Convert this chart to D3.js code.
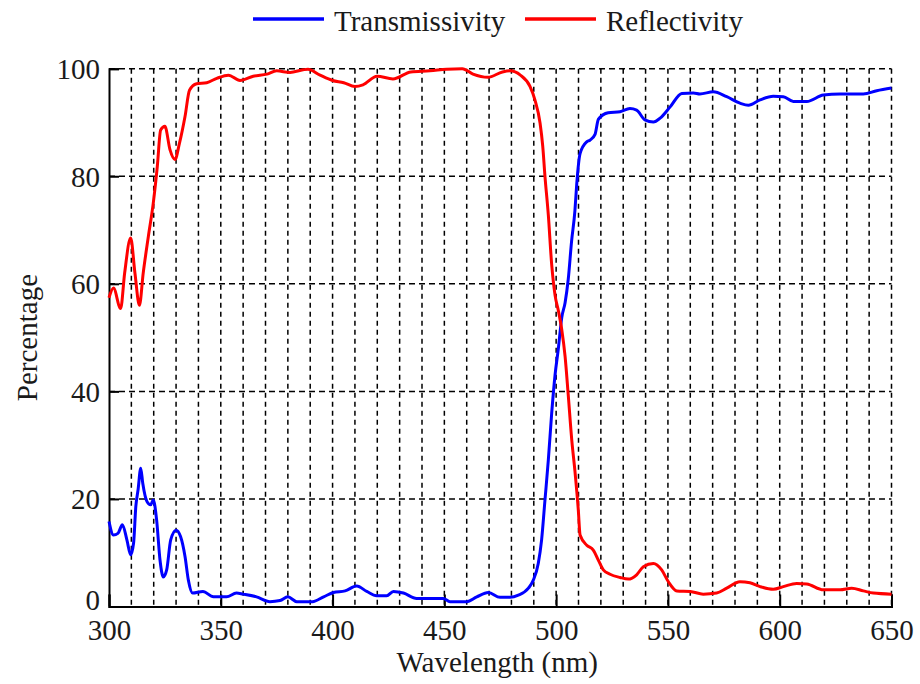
<!DOCTYPE html>
<html>
<head>
<meta charset="utf-8">
<script src="https://cdn.jsdelivr.net/npm/d3@7"></script>
<style>
  body { margin: 0; background: #fff; }
  svg text { font-family: "Liberation Serif", "Times New Roman", Times, "DejaVu Serif", "Noto Serif", serif; fill: #1a1a1a; }
</style>
</head>
<body>
<div id="chart"></div>
<script>
// wavelength (nm) / percentage
var transWave = [300, 302, 304, 306, 308, 309.7, 311, 312, 313, 314.2, 315.1, 317, 318.6, 319.8, 321.3, 322.8, 324.3, 325.8, 327.6, 330, 332, 334, 335.5, 337.4, 342, 346.7, 352.6, 357, 360, 366, 372, 376.5, 380, 384, 391, 396, 400.4, 405.6, 410.8, 415.3, 419.7, 424.2, 427.2, 431.7, 437.6, 449.5, 452.5, 460, 464.5, 469.7, 474.9, 479.4, 483.1, 487.6, 489.8, 492, 493.5, 495, 496.5, 498, 499.5, 501, 502.5, 504, 505.4, 506.9, 508.4, 509.2, 510.7, 513.7, 515.1, 517.4, 518.9, 523.3, 528.6, 533, 536, 539.7, 543.5, 546.5, 551, 556.2, 561.4, 564.3, 570.3, 576.3, 582.2, 586, 591.2, 597.1, 601.6, 606.1, 612.1, 619.5, 627, 637.4, 643.4, 650];
var transmissivity = [15.8, 13.3, 13.6, 15.2, 12.4, 9.6, 11.8, 18.6, 21.7, 25.7, 22.9, 19.5, 18.9, 19.8, 16.1, 8.7, 5.5, 6.8, 12.4, 14.2, 13, 9.3, 4.9, 2.5, 2.8, 1.8, 1.8, 2.5, 2.3, 1.8, 0.9, 1.1, 1.8, 0.9, 0.9, 1.8, 2.6, 2.9, 3.8, 2.8, 2.0, 2.0, 2.8, 2.5, 1.5, 1.5, 0.9, 0.9, 1.8, 2.6, 1.7, 1.7, 2.1, 3.4, 4.9, 8, 12.4, 19.8, 27.2, 35.9, 43, 48, 53.7, 56.5, 60.8, 67.9, 73.6, 78.5, 84.2, 86.4, 86.7, 87.8, 90.6, 91.8, 92, 92.6, 92.3, 90.5, 90.1, 90.8, 92.9, 95.4, 95.5, 95.3, 95.7, 94.8, 93.6, 93.2, 94.2, 94.9, 94.8, 93.9, 93.9, 95.1, 95.3, 95.3, 95.9, 96.4];

var reflWave = [300, 302, 305.2, 307, 309.7, 311.6, 313.6, 315.3, 317.6, 319.8, 321.6, 323.1, 325, 327.3, 329.5, 331.5, 334, 336, 339.2, 343.7, 348.2, 353.4, 358.6, 364.5, 370.7, 375, 381, 386.8, 389, 394.4, 400, 405, 410, 413.6, 419.9, 427, 435, 443.6, 451, 458, 462.8, 469.5, 476, 479.4, 484, 488.3, 490.5, 492.8, 494, 495, 496.5, 498, 499.5, 501, 502.5, 504, 505.4, 507, 508.4, 509.9, 510.7, 513.7, 516.6, 518.9, 521.1, 524.1, 528.6, 532.3, 536, 539, 543.5, 547.2, 550.2, 554, 560, 565.8, 571.8, 576.3, 582.2, 586.7, 591.2, 597.1, 601.6, 607.6, 612.1, 619.5, 627, 632.2, 637.4, 641.9, 650];
var reflectivity = [57.4, 59.2, 55.4, 62, 68.5, 62, 56, 62, 68.8, 75, 81.8, 88.6, 89.3, 84.9, 83.1, 86.1, 91.1, 96, 97.2, 97.4, 98.2, 98.8, 97.8, 98.6, 99, 99.6, 99.3, 99.8, 99.9, 98.8, 97.8, 97.4, 96.7, 97, 98.6, 98.1, 99.4, 99.6, 99.9, 100, 99, 98.4, 99.4, 99.6, 98.8, 96.7, 94.2, 89.9, 85.6, 80, 72.8, 63.6, 57.9, 55, 51.5, 46.5, 39.4, 30.9, 25.2, 18, 13.3, 11.4, 10.5, 8.6, 6.8, 6, 5.4, 5.1, 5.9, 7.4, 8, 6.8, 4.6, 2.9, 2.8, 2.3, 2.5, 3.4, 4.6, 4.4, 3.7, 3.2, 3.7, 4.3, 4.2, 3.1, 3.1, 3.4, 2.9, 2.5, 2.3];

var xTicks = [300, 350, 400, 450, 500, 550, 600, 650];
var yTicks = [0, 20, 40, 60, 80, 100];
var seriesNames = ['Transmissivity', 'Reflectivity'];
var seriesColors = ['#0000ff', '#ff0000'];

var serif = '"Liberation Serif", "Times New Roman", Times, "DejaVu Serif", "Noto Serif", serif';

var width = 920, height = 684;
var margin = {top: 68.7, right: 28.5, bottom: 77.5, left: 109};
var plotW = width - margin.left - margin.right,
    plotH = height - margin.top - margin.bottom;

var svg = d3.select('#chart').append('svg')
  .attr('width', width)
  .attr('height', height);

var g = svg.append('g')
  .attr('transform', 'translate(' + margin.left + ',' + margin.top + ')');

var x = d3.scaleLinear().domain([300, 650]).range([0, plotW]);
var y = d3.scaleLinear().domain([0, 100]).range([plotH, 0]);

// dashed grid, every 10 nm and every 20 %
g.append('g').selectAll('line')
  .data(d3.range(310, 651, 10))
  .enter().append('line')
  .attr('x1', function(d) { return x(d); })
  .attr('x2', function(d) { return x(d); })
  .attr('y1', 0)
  .attr('y2', plotH)
  .attr('stroke', '#000')
  .attr('stroke-width', 1.5)
  .attr('stroke-dasharray', '5,4');

g.append('g').selectAll('line')
  .data(yTicks.slice(1))
  .enter().append('line')
  .attr('x1', 0)
  .attr('x2', plotW)
  .attr('y1', function(d) { return y(d); })
  .attr('y2', function(d) { return y(d); })
  .attr('stroke', '#000')
  .attr('stroke-width', 1.5)
  .attr('stroke-dasharray', '6,4');

// axes
var xAxis = d3.axisBottom(x).tickValues(xTicks).tickSize(-12).tickPadding(13);
var yAxis = d3.axisLeft(y).tickValues(yTicks).tickSize(-10).tickPadding(9);

var gx = g.append('g')
  .attr('transform', 'translate(0,' + plotH + ')')
  .call(xAxis);
var gy = g.append('g').call(yAxis);

[gx, gy].forEach(function(a) {
  a.attr('font-family', serif).attr('font-size', 29);
  a.select('.domain').attr('stroke', '#000').attr('stroke-width', 2);
  a.selectAll('.tick line').attr('stroke', '#000').attr('stroke-width', 2);
  a.selectAll('.tick text').attr('fill', '#1a1a1a');
});
gx.selectAll('.tick text').attr('dy', '0.71em');
gy.selectAll('.tick text').attr('dy', function(d) { return d === 0 ? '0.1em' : '0.34em'; });

// curves
var line = d3.line()
  .x(function(d) { return x(d[0]); })
  .y(function(d) { return y(d[1]); })
  .curve(d3.curveMonotoneX);

var series = [
  d3.zip(transWave, transmissivity),
  d3.zip(reflWave, reflectivity)
];

g.selectAll('.curve')
  .data(series)
  .enter().append('path')
  .attr('class', 'curve')
  .attr('d', line)
  .attr('fill', 'none')
  .attr('stroke', function(d, i) { return seriesColors[i]; })
  .attr('stroke-width', 3)
  .attr('stroke-linejoin', 'round');

// axis titles
svg.append('text')
  .attr('x', margin.left + plotW / 2 - 3)
  .attr('y', 672)
  .attr('text-anchor', 'middle')
  .attr('font-family', serif)
  .attr('font-size', 29)
  .text('Wavelength (nm)');

svg.append('text')
  .attr('transform', 'translate(37,' + (margin.top + plotH / 2) + ') rotate(-90)')
  .attr('text-anchor', 'middle')
  .attr('font-family', serif)
  .attr('font-size', 29)
  .text('Percentage');

// legend
var legendX = [253, 525];
var legend = svg.selectAll('.legend')
  .data(seriesNames)
  .enter().append('g')
  .attr('class', 'legend')
  .attr('transform', function(d, i) { return 'translate(' + legendX[i] + ',19)'; });

legend.append('line')
  .attr('x1', 0).attr('x2', 71)
  .attr('stroke', function(d, i) { return seriesColors[i]; })
  .attr('stroke-width', 3.5);

legend.append('text')
  .attr('x', 81)
  .attr('y', 12)
  .attr('font-family', serif)
  .attr('font-size', 29)
  .text(function(d) { return d; });
</script>
</body>
</html>
